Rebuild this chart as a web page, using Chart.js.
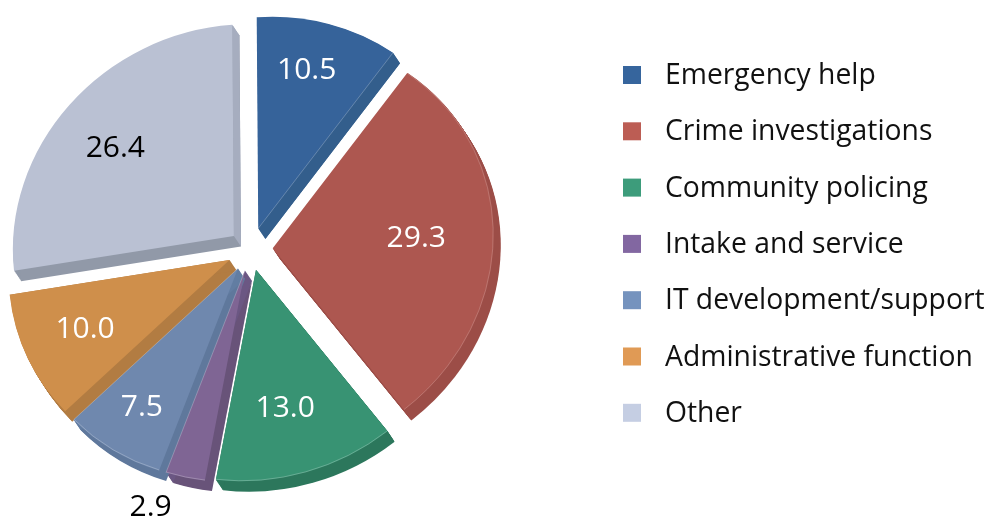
<!DOCTYPE html>
<html>
<head>
<meta charset="utf-8">
<style>
  html, body { margin: 0; padding: 0; background: #fff; }
  #wrap { width: 987px; height: 519px; }
</style>
<script src="https://cdn.jsdelivr.net/npm/chart.js@4/dist/chart.umd.min.js"></script>
</head>
<body>
<div id="wrap"><canvas id="pie" width="987" height="519"></canvas></div>
<script>
const categories = ['Emergency help', 'Crime investigations', 'Community policing', 'Intake and service', 'IT development/support', 'Administrative function', 'Other'];
const shares = [10.5, 29.3, 13.0, 2.9, 7.5, 10.0, 26.4];
const shareLabels = ['10.5', '29.3', '13.0', '2.9', '7.5', '10.0', '26.4'];

const faceColours = ['#36639a', '#ad5750', '#389373', '#7f6594', '#6f88ae', '#cf8f4b', '#bac1d3'];
const wallColours = ['#335e8c', '#9c4d47', '#2c775c', '#685379', '#5f789c', '#b27c42', '#9199a8'];
const sideColours = ['#335e8c', '#9c4d47', '#2c775c', '#6b5783', '#627da2', '#b27c42', '#a6adbf'];
const keyColours = ['#36659d', '#bc5d54', '#3d9c7b', '#8267a1', '#7593be', '#e09a55', '#c5cee3'];
const labelColours = ['#fff', '#fff', '#fff', '#000', '#fff', '#fff', '#000'];

const explode = [22.8, 21.7, 22, 22.4, 23, 23.5, 23];
const labelDist = [166, 144, 141, 254, 168, 160, 148];
const labelTurn = [-2, -5.4, 0.7, 5.7, 0, -2, -5.5];
const rimAlpha = [0, 0.22, 0.3, 0.3, 0.3, 0, 0];
const seamAlpha = [0.3, 0, 0, 0.3, 0.3, 0, 0];

// the original pie is tilted in 3D, a shear and a slight squash get close to it
const shear = 0.068, lean = 0.007, squash = 0.955;
const depthX = 7, depthY = (10.5 + shear * depthX) / squash, depthSteps = 12;
const font = '"Open Sans", sans-serif';

function tilt(ctx, chart) {
  const cx = (chart.chartArea.left + chart.chartArea.right) / 2;
  const cy = (chart.chartArea.top + chart.chartArea.bottom) / 2;
  ctx.translate(cx, cy);
  ctx.transform(1, -shear, lean, squash, 0, 0);
  ctx.translate(-cx, -cy);
}

function wedge(ctx, a, dx, dy) {
  ctx.beginPath();
  ctx.moveTo(a.x + dx, a.y + dy);
  ctx.arc(a.x + dx, a.y + dy, a.outerRadius, a.startAngle, a.endAngle);
  ctx.closePath();
}

const exploded = {
  id: 'exploded',
  afterDatasetUpdate(chart) {
    chart.getDatasetMeta(0).data.forEach((a, i) => {
      const mid = (a.startAngle + a.endAngle) / 2;
      a.x += Math.cos(mid) * explode[i];
      a.y += Math.sin(mid) * explode[i];
    });
  },
  beforeDatasetsDraw(chart) {
    const ctx = chart.ctx;
    ctx.save();
    tilt(ctx, chart);
    chart.getDatasetMeta(0).data.forEach((a, i) => {
      ctx.fillStyle = wallColours[i];
      for (let k = 1; k <= depthSteps; k++) {
        wedge(ctx, a, depthX * k / depthSteps, depthY * k / depthSteps);
        ctx.fill();
      }
      const ex = a.x + Math.cos(a.endAngle) * a.outerRadius;
      const ey = a.y + Math.sin(a.endAngle) * a.outerRadius;
      ctx.fillStyle = sideColours[i];
      ctx.beginPath();
      ctx.moveTo(a.x, a.y);
      ctx.lineTo(ex, ey);
      ctx.lineTo(ex + depthX, ey + depthY);
      ctx.lineTo(a.x + depthX, a.y + depthY);
      ctx.closePath();
      ctx.fill();
    });
    ctx.restore();
  },
  beforeDatasetDraw(chart) {
    chart.ctx.save();
    tilt(chart.ctx, chart);
  },
  afterDatasetDraw(chart) {
    chart.ctx.restore();
  },
  afterDatasetsDraw(chart) {
    const ctx = chart.ctx;
    const cx = (chart.chartArea.left + chart.chartArea.right) / 2;
    const cy = (chart.chartArea.top + chart.chartArea.bottom) / 2;
    const arcs = chart.getDatasetMeta(0).data;

    // thin highlight where the top face meets the wall
    ctx.save();
    tilt(ctx, chart);
    ctx.lineWidth = 0.8;
    arcs.forEach((a, i) => {
      if (rimAlpha[i]) {
        ctx.strokeStyle = 'rgba(255,255,255,' + rimAlpha[i] + ')';
        ctx.beginPath();
        ctx.arc(a.x, a.y, a.outerRadius - 0.5, a.startAngle, a.endAngle);
        ctx.stroke();
      }
      if (seamAlpha[i]) {
        ctx.strokeStyle = 'rgba(255,255,255,' + seamAlpha[i] + ')';
        ctx.beginPath();
        ctx.moveTo(a.x, a.y);
        ctx.lineTo(a.x + Math.cos(a.endAngle) * a.outerRadius, a.y + Math.sin(a.endAngle) * a.outerRadius);
        ctx.stroke();
      }
    });
    ctx.restore();

    ctx.textAlign = 'center';
    ctx.textBaseline = 'middle';
    ctx.font = '30px ' + font;
    arcs.forEach((a, i) => {
      const ang = (a.startAngle + a.endAngle) / 2 + labelTurn[i] * Math.PI / 180;
      const ax = cx + (a.x - cx) + lean * (a.y - cy);
      const ay = cy + (a.y - cy) * squash - shear * (a.x - cx);
      ctx.fillStyle = labelColours[i];
      ctx.fillText(shareLabels[i], ax + Math.cos(ang) * labelDist[i], ay + Math.sin(ang) * labelDist[i] + 1);
    });
  }
};

const sideKey = {
  id: 'sideKey',
  afterDraw(chart) {
    const ctx = chart.ctx;
    ctx.textAlign = 'left';
    ctx.textBaseline = 'middle';
    ctx.font = '28.3px ' + font;
    categories.forEach((name, i) => {
      const y = 75 + i * 56.3;
      ctx.fillStyle = keyColours[i];
      ctx.fillRect(623, y - 9, 18, 18);
      ctx.fillStyle = '#111';
      ctx.fillText(name, 665, y + 1);
    });
  }
};

new Chart(document.getElementById('pie'), {
  type: 'pie',
  data: {
    labels: categories,
    datasets: [{ data: shares, backgroundColor: faceColours, borderWidth: 0 }]
  },
  options: {
    responsive: false,
    animation: false,
    radius: 221,
    layout: { padding: { right: 485, bottom: 20 } },
    plugins: { legend: { display: false }, tooltip: { enabled: false } }
  },
  plugins: [exploded, sideKey]
});
</script>
</body>
</html>
